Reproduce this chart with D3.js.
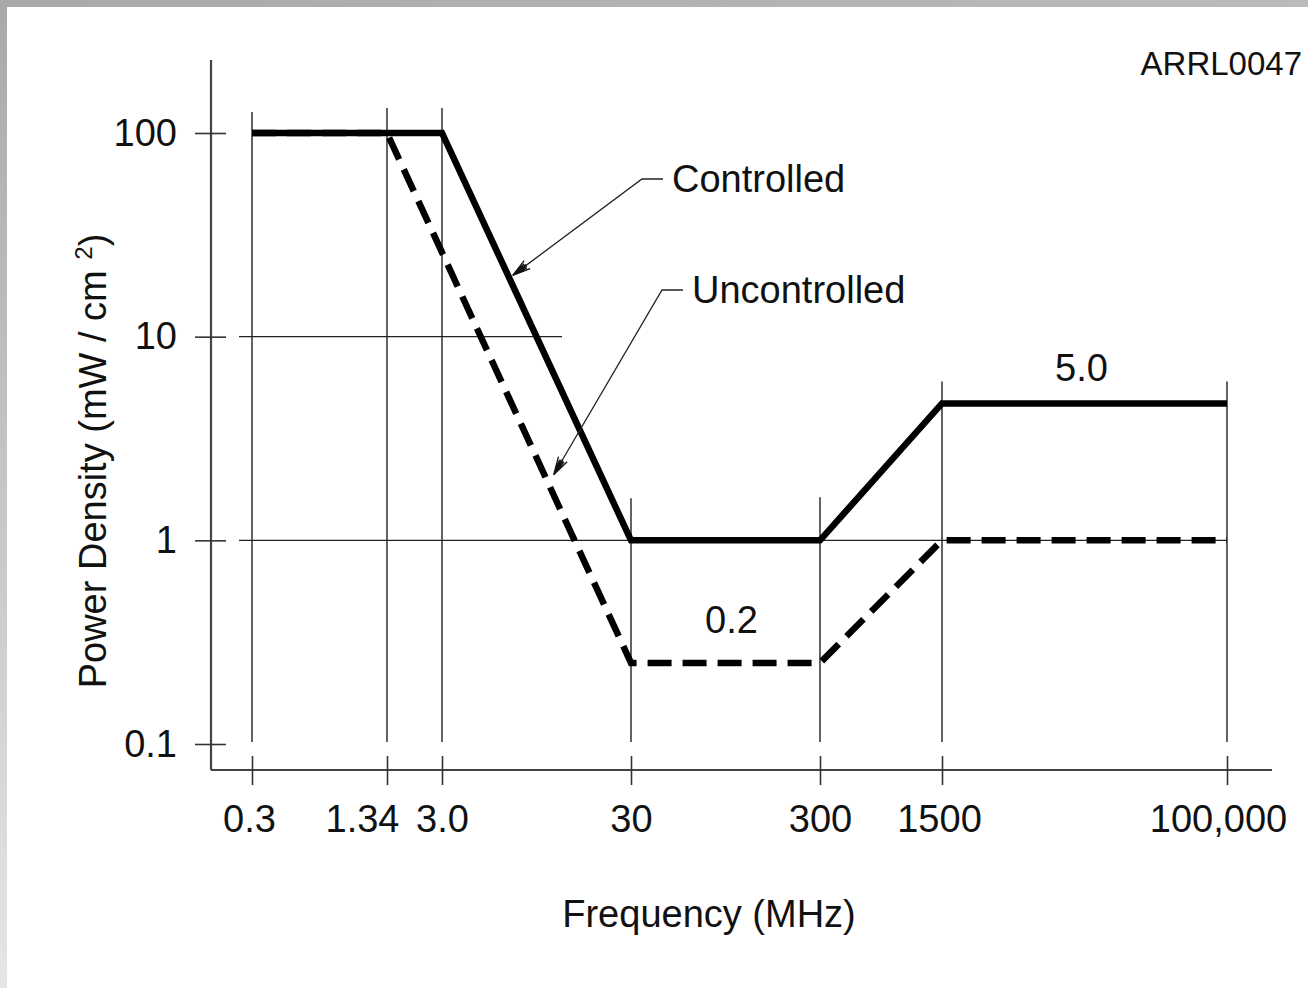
<!DOCTYPE html>
<html>
<head>
<meta charset="utf-8">
<script src="https://cdn.jsdelivr.net/npm/d3@7"></script>
<style>
  body { margin: 0; background: #fff; }
  svg text { font-family: "Liberation Sans", Arial, sans-serif; fill: #111; }
</style>
</head>
<body>
<div id="chart"></div>
<script>
// tick values on both axes
var freqTicks = [0.3, 1.34, 3, 30, 300, 1500, 100000];
var freqTickLabels = ["0.3", "1.34", "3.0", "30", "300", "1500", "100,000"];
var densityTicks = [100, 10, 1, 0.1];
var densityTickLabels = ["100", "10", "1", "0.1"];

// MPE limits
var controlledFreq = [0.3, 3, 30, 300, 1500, 100000];
var controlledDensity = [100, 100, 1, 1, 4.7, 4.7];
var uncontrolledFreq = [0.3, 1.34, 30, 300, 1500, 100000];
var uncontrolledDensity = [100, 100, 0.25, 0.25, 1, 1];

// the drawing is not a true log scale, so the x axis is piecewise
var xTickPx = [252, 387, 442, 631, 820, 942, 1227];
var labelShift = [-3, -25, 0, 0, 0, -3, -9];
var gridTopPad = [21, 25, 25, 42, 43, 22, 22];

var W = 1308, H = 988;

var svg = d3.select("#chart").append("svg")
  .attr("width", W)
  .attr("height", H);

// grey slide frame on top / left
var defs = svg.append("defs");
var grad = defs.append("linearGradient").attr("id", "frame")
  .attr("x1", 0).attr("y1", 0).attr("x2", 0.3).attr("y2", 1);
grad.append("stop").attr("offset", "0%").attr("stop-color", "#a9a9a9");
grad.append("stop").attr("offset", "60%").attr("stop-color", "#cfcfcf");
grad.append("stop").attr("offset", "100%").attr("stop-color", "#ececec");
svg.append("rect").attr("width", W).attr("height", H).attr("fill", "url(#frame)");
svg.append("rect").attr("x", 7).attr("y", 7).attr("width", W - 7).attr("height", H - 7).attr("fill", "#fff");

// arrow head for the leaders
defs.append("marker")
  .attr("id", "barb")
  .attr("viewBox", "-20 -8 22 16")
  .attr("refX", 0).attr("refY", 0)
  .attr("markerWidth", 22).attr("markerHeight", 16)
  .attr("markerUnits", "userSpaceOnUse")
  .attr("orient", "auto")
  .append("path")
  .attr("d", "M0,0L-18,-5M0,0L-18,5M0,0L-16,-2.5M0,0L-16,2.5M-3,0L-17,-1M-3,0L-17,1")
  .attr("fill", "none")
  .attr("stroke", "#111")
  .attr("stroke-width", 1.3);

var x = d3.scaleLog().domain(freqTicks).range(xTickPx);
var y = d3.scaleLog().domain([0.1, 100]).range([744, 133]);

var axisLeftX = 211, axisBottomY = 770;

// gridlines
var g = svg.append("g").attr("stroke", "#222").attr("stroke-width", 1.4);

g.append("line").attr("x1", 239).attr("x2", 562)
  .attr("y1", y(10)).attr("y2", y(10));
g.append("line").attr("x1", 239).attr("x2", x(100000))
  .attr("y1", y(1)).attr("y2", y(1));

function controlledAt(f) {
  var i = controlledFreq.indexOf(f);
  if (i >= 0) return controlledDensity[i];
  return 100;
}
freqTicks.forEach(function (f, i) {
  g.append("line")
    .attr("x1", x(f)).attr("x2", x(f))
    .attr("y1", y(controlledAt(f)) - gridTopPad[i])
    .attr("y2", 742);
});

// axis lines
svg.append("line").attr("x1", axisLeftX).attr("x2", axisLeftX)
  .attr("y1", 60).attr("y2", axisBottomY)
  .attr("stroke", "#444").attr("stroke-width", 2.2);
svg.append("line").attr("x1", axisLeftX).attr("x2", 1272)
  .attr("y1", axisBottomY).attr("y2", axisBottomY)
  .attr("stroke", "#444").attr("stroke-width", 2.2);

// y axis ticks crossing the axis line
var yAxis = svg.append("g")
  .attr("transform", "translate(226,0)")
  .call(d3.axisLeft(y)
    .tickValues(densityTicks)
    .tickFormat(function (d, i) { return densityTickLabels[i]; })
    .tickSize(31)
    .tickPadding(18));
yAxis.select(".domain").remove();
yAxis.selectAll(".tick line").attr("stroke", "#333").attr("stroke-width", 1.6);
yAxis.selectAll("text").style("font-size", "38px").attr("fill", "#111");

// x axis ticks
var xAxis = svg.append("g")
  .attr("transform", "translate(0,756)")
  .call(d3.axisBottom(x)
    .tickValues(freqTicks)
    .tickFormat(function (d, i) { return freqTickLabels[i]; })
    .tickSize(29)
    .tickPadding(20));
xAxis.select(".domain").remove();
xAxis.selectAll(".tick line").attr("stroke", "#333").attr("stroke-width", 1.6);
xAxis.selectAll("text")
  .style("font-size", "38px")
  .attr("fill", "#111")
  .attr("dx", function (d, i) { return labelShift[i]; });

// limit lines
var line = d3.line()
  .x(function (d) { return x(d[0]); })
  .y(function (d) { return y(d[1]); });

svg.append("path")
  .datum(d3.zip(uncontrolledFreq, uncontrolledDensity))
  .attr("d", line)
  .attr("fill", "none")
  .attr("stroke", "#000")
  .attr("stroke-width", 6.5)
  .attr("stroke-dasharray", "24,11")
  .attr("stroke-linejoin", "miter");

svg.append("path")
  .datum(d3.zip(controlledFreq, controlledDensity))
  .attr("d", line)
  .attr("fill", "none")
  .attr("stroke", "#000")
  .attr("stroke-width", 6.5)
  .attr("stroke-linejoin", "miter");

// leaders and labels
function leader(textX, textY, elbowX, tipF, tipD, label) {
  svg.append("path")
    .attr("d", "M" + (elbowX + 21) + "," + textY + "L" + elbowX + "," + textY +
      "L" + x(tipF) + "," + y(tipD))
    .attr("fill", "none")
    .attr("stroke", "#222")
    .attr("stroke-width", 1.3)
    .attr("marker-end", "url(#barb)");
  svg.append("text")
    .attr("x", textX)
    .attr("y", textY + 13)
    .style("font-size", "38px")
    .text(label);
}
leader(672, 179, 642, 7.1, 20, "Controlled");
leader(692, 290, 662, 11.7, 2.1, "Uncontrolled");

svg.append("text")
  .attr("x", (x(1500) + x(100000)) / 2 - 3)
  .attr("y", y(4.7) - 22)
  .attr("text-anchor", "middle")
  .style("font-size", "38px")
  .text("5.0");

svg.append("text")
  .attr("x", (x(30) + x(300)) / 2 + 6)
  .attr("y", y(0.25) - 30)
  .attr("text-anchor", "middle")
  .style("font-size", "38px")
  .text("0.2");

// axis titles
svg.append("text")
  .attr("x", 709)
  .attr("y", 927)
  .attr("text-anchor", "middle")
  .style("font-size", "38px")
  .text("Frequency (MHz)");

var yt = svg.append("text")
  .attr("transform", "translate(106,461) rotate(-90)")
  .attr("text-anchor", "middle")
  .style("font-size", "38px");
yt.append("tspan").text("Power Density (mW / cm ");
yt.append("tspan").attr("dy", -14).style("font-size", "24px").text("2");
yt.append("tspan").attr("dy", 14).text(")");

svg.append("text")
  .attr("x", 1302)
  .attr("y", 75)
  .attr("text-anchor", "end")
  .style("font-size", "33px")
  .text("ARRL0047");
</script>
</body>
</html>
